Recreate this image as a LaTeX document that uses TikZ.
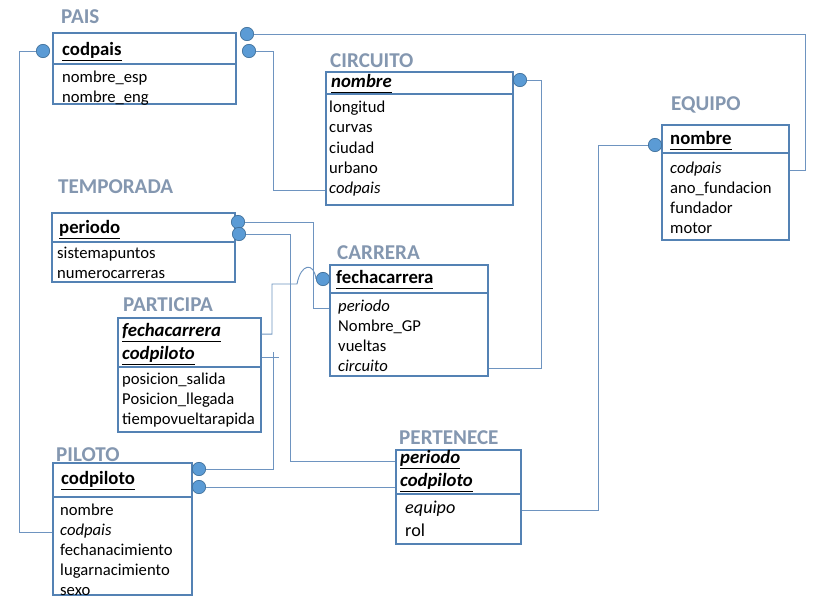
\documentclass[tikz,border=0pt]{standalone}
\usepackage{fontspec}
\setmainfont{Carlito}
\usetikzlibrary{positioning,fit,calc}

\definecolor{boxblue}{RGB}{84,130,180}
\definecolor{lineblue}{RGB}{110,148,192}
\definecolor{dotfill}{RGB}{91,155,213}
\definecolor{dotdraw}{RGB}{65,113,156}
\definecolor{titlegray}{RGB}{132,151,176}

\newcommand{\ulkey}[1]{\setbox0\hbox{#1}\rlap{\rule[-0.25em]{\wd0}{0.06em}}\box0}

\tikzset{
	tbl/.style={draw=boxblue, line width=0.9pt, inner sep=0pt},
	tblrule/.style={draw=boxblue, line width=0.9pt},
	tbltitle/.style={anchor=west, inner sep=0pt, text=titlegray, font=\fontsize{18}{20}\selectfont\bfseries},
	keyattr/.style={anchor=west, inner sep=0pt, yshift=-2.6pt, text height=0.72em, text depth=0.22em, font=\fontsize{16}{18}\selectfont\bfseries},
	attr/.style={anchor=west, inner sep=0pt, yshift=-2.8pt, text height=0.72em, text depth=0.22em, font=\fontsize{14.2}{17}\selectfont},
	fkdot/.style={circle, fill=dotfill, draw=dotdraw, line width=0.6pt, minimum size=0.4cm, inner sep=0pt},
	conn/.style={draw=lineblue, line width=0.8pt},
}

\begin{document}
\begin{tikzpicture}[x=0.03cm, y=-0.03cm]
			% Canvas
			\fill[white] (0,0) rectangle (823,605);
			\useasboundingbox (0,0) rectangle (823,605);
			
			% PAIS
			\node[tbltitle] (pais-t) at (61,17) {PAIS};
			\node[tbl, fit={(53,33) (236,104)}] (pais) {};
			\draw[tblrule] (53,64) -- (236,64);
			\node[keyattr] (pais-k1) at (62,50) {\ulkey{codpais}};
			\foreach \txt/\y [count=\i] in {nombre\_esp/76, nombre\_eng/96}
				\node[attr] (pais-a\i) at (62,\y) {\txt};
			
			% CIRCUITO
			\node[tbltitle] (cir-t) at (330,61) {CIRCUITO};
			\node[tbl, fit={(326,72) (513,205)}] (cir) {};
			\draw[tblrule] (326,94) -- (513,94);
			\node[keyattr] (cir-k1) at (331,82) {\ulkey{\itshape nombre}};
			\foreach \txt/\y [count=\i] in {longitud/106, curvas/126, ciudad/147, urbano/167, \textit{codpais}/187}
				\node[attr] (cir-a\i) at (329,\y) {\txt};
			
			% EQUIPO
			\node[tbltitle] (eq-t) at (671,105) {EQUIPO};
			\node[tbl, fit={(662,125) (789,240)}] (eq) {};
			\draw[tblrule] (662,153) -- (789,153);
			\node[keyattr] (eq-k1) at (670,139) {\ulkey{nombre}};
			\foreach \txt/\y [count=\i] in {\textit{codpais}/167, ano\_fundacion/187, fundador/207, motor/227}
				\node[attr] (eq-a\i) at (670,\y) {\txt};
			
			% TEMPORADA
			\node[tbltitle] (tem-t) at (58,187) {TEMPORADA};
			\node[tbl, fit={(52,213) (235,282)}] (tem) {};
			\draw[tblrule] (52,242) -- (235,242);
			\node[keyattr] (tem-k1) at (59,228) {\ulkey{periodo}};
			\foreach \txt/\y [count=\i] in {sistemapuntos/252, numerocarreras/272}
				\node[attr] (tem-a\i) at (57,\y) {\txt};
			
			% CARRERA
			\node[tbltitle] (car-t) at (337,253) {CARRERA};
			\node[tbl, fit={(330,265) (488,376)}] (car) {};
			\draw[tblrule] (330,293) -- (488,293);
			\node[keyattr] (car-k1) at (336,278) {\ulkey{fechacarrera}};
			\foreach \txt/\y [count=\i] in {\textit{periodo}/305, Nombre\_GP/325, vueltas/345, \textit{circuito}/365}
				\node[attr] (car-a\i) at (338,\y) {\txt};
			
			% PARTICIPA
			\node[tbltitle] (par-t) at (123,305) {PARTICIPA};
			\node[tbl, fit={(118,318) (261,432)}] (par) {};
			\draw[tblrule] (118,367) -- (261,367);
			\node[keyattr] (par-k1) at (122,331) {\ulkey{\itshape fechacarrera}};
			\node[keyattr] (par-k2) at (122,354) {\ulkey{\itshape codpiloto}};
			\foreach \txt/\y [count=\i] in {posicion\_salida/378, Posicion\_llegada/398, tiempovueltarapida/418}
				\node[attr] (par-a\i) at (122,\y) {\txt};
			
			% PILOTO
			\node[tbltitle] (pil-t) at (56,455) {PILOTO};
			\node[tbl, fit={(53,463) (192,595)}] (pil) {};
			\draw[tblrule] (53,497) -- (192,497);
			\node[keyattr] (pil-k1) at (61,479) {\ulkey{codpiloto}};
			\foreach \txt/\y [count=\i] in {nombre/509, \textit{codpais}/529, fechanacimiento/549, lugarnacimiento/569, sexo/589}
				\node[attr] (pil-a\i) at (60,\y) {\txt};
			
			% PERTENECE
			\node[tbltitle] (per-t) at (399,438) {PERTENECE};
			\node[tbl, fit={(396,450) (521,544)}] (per) {};
			\draw[tblrule] (396,494) -- (521,494);
			\node[keyattr] (per-k1) at (400,458) {\ulkey{\itshape periodo}};
			\node[keyattr] (per-k2) at (400,481) {\ulkey{\itshape codpiloto}};
			\foreach \txt/\y [count=\i] in {\textit{equipo}/507, rol/530}
				\node[attr, font=\fontsize{15.5}{18}\selectfont] (per-a\i) at (405,\y) {\txt};
			
			% Key dots
			\foreach \dotname/\x/\y in {pais-d0/43/51, pais-d1/247/34, pais-d2/249/51, cir-d/520/80,
				eq-d/655/145, tem-d1/238/222, tem-d2/239/234, car-d/323/279, pil-d1/199/469, pil-d2/199/487}
				\node[fkdot] (\dotname) at (\x,\y) {};
			
			% Bend points
			\coordinate (jPais0) at (19,51);
			\coordinate (jPais1) at (805,34);
			\coordinate (jPais2) at (273,51);
			\coordinate (jCir) at (541,80);
			\coordinate (jEq) at (598,145);
			\coordinate (jTem1) at (313,222);
			\coordinate (jTem2) at (290,234);
			\coordinate (jHop) at (272,284);
			\coordinate (jPar) at (273,352);
			
			% Connectors
			\draw[conn] (pais-d0) -- (jPais0) |- (pil.west |- pil-a2);
			\draw[conn] (pais-d1) -- (jPais1) |- (eq.east |- eq-a1);
			\draw[conn] (pais-d2) -- (jPais2) |- (cir.west |- cir-a5);
			\draw[conn] (cir-d) -- (jCir) |- (car.east |- car-a4);
			\draw[conn] (eq-d) -- (jEq) |- (per.east |- per-a1);
			\draw[conn] (tem-d1) -- (jTem1) |- (car.west |- car-a1);
			\draw[conn] (tem-d2) -- (jTem2) |- (per.west |- per-k1);
			\draw[conn] (par.east |- par-k1) -| (jHop) -- ++(25,0) .. controls (301,263) and (314,262) .. (car-d.west);
			\draw[conn] (par.east |- par-k2) -- ++(17,0);
			\draw[conn] (jPar) |- (pil-d1);
			\draw[conn] (pil-d2) -- (per.west |- pil-d2);
		\end{tikzpicture}
\end{document}
